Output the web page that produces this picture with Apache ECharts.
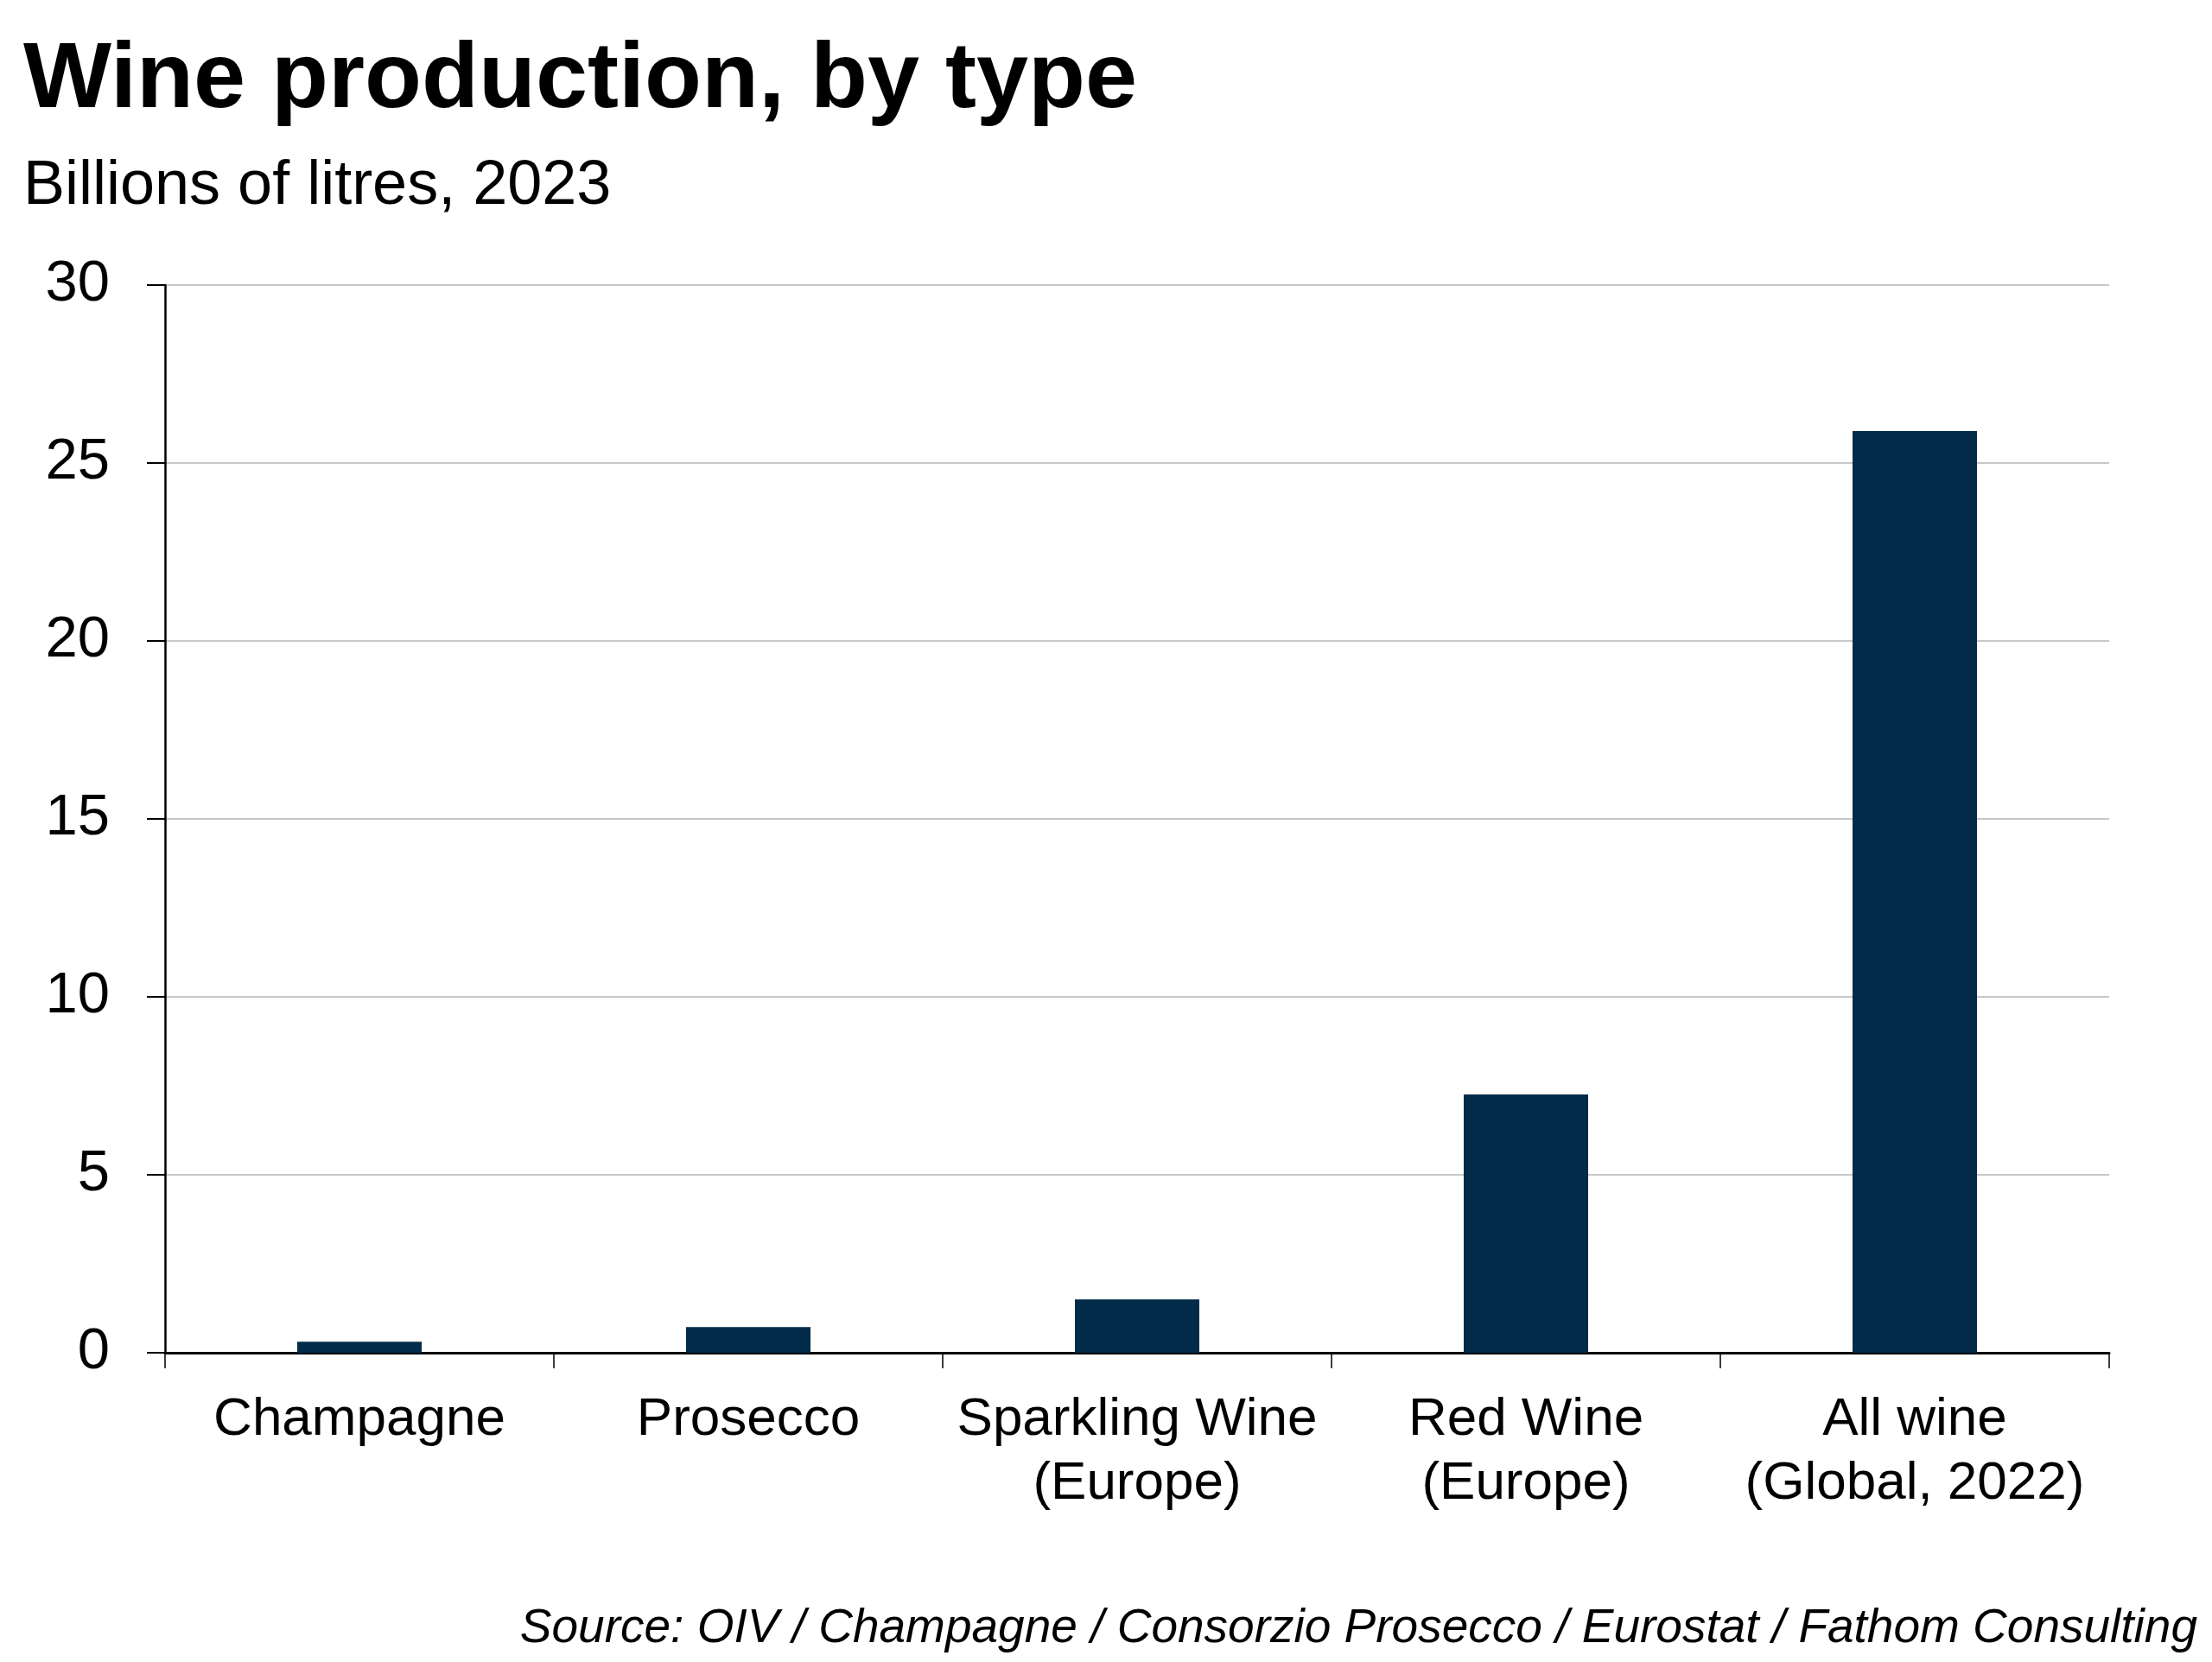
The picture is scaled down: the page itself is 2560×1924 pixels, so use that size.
<!DOCTYPE html>
<html>
<head>
<meta charset="utf-8">
<script src="https://cdn.jsdelivr.net/npm/echarts@6/dist/echarts.min.js"></script>
<style>
html,body{margin:0;padding:0;background:#fff;}
#c{width:2560px;height:1924px;}
</style>
</head>
<body>
<div id="c"></div>
<script>
const categories = ["Champagne", "Prosecco", "Sparkling Wine\n(Europe)", "Red Wine\n(Europe)", "All wine\n(Global, 2022)"];
const values = [0.31, 0.72, 1.5, 7.26, 25.9];
const yTicks = [0, 5, 10, 15, 20, 25, 30];

const FONT = '"Liberation Sans", Arial, sans-serif';
const chart = echarts.init(document.getElementById('c'), null, {renderer: 'canvas'});
chart.setOption({
  backgroundColor: '#ffffff',
  animation: false,
  title: [
    {text: 'Wine production, by type', left: 22, top: 35,
     textStyle: {fontFamily: FONT, fontWeight: 'bold', fontSize: 108, lineHeight: 108, color: '#000'}},
    {text: 'Billions of litres, 2023', left: 22, top: 175,
     textStyle: {fontFamily: FONT, fontWeight: 'normal', fontSize: 72, lineHeight: 72, color: '#000'}},
    {text: 'Source: OIV / Champagne / Consorzio Prosecco / Eurostat / Fathom Consulting', right: 12, top: 1853,
     textStyle: {fontFamily: FONT, fontStyle: 'italic', fontWeight: 'normal', fontSize: 55, lineHeight: 55, color: '#000'}}
  ],
  grid: {left: 191, right: 119, top: 330, bottom: 358, containLabel: false},
  xAxis: {
    type: 'category',
    data: categories,
    axisLine: {show: true, lineStyle: {color: '#000', width: 3}},
    axisTick: {show: true, length: 18, lineStyle: {color: '#000', width: 1.5}},
    axisLabel: {fontFamily: FONT, fontSize: 62, lineHeight: 74, color: '#000', margin: 41, interval: 0},
    splitLine: {show: false}
  },
  yAxis: {
    type: 'value',
    min: yTicks[0], max: yTicks[yTicks.length - 1], interval: 5,
    axisLine: {show: true, lineStyle: {color: '#000', width: 2.5}},
    axisTick: {show: true, inside: false, length: 21, lineStyle: {color: '#000', width: 2}},
    axisLabel: {fontFamily: FONT, fontSize: 67, color: '#000', margin: 64},
    splitLine: {show: true, lineStyle: {color: '#c8c8c8', width: 2}}
  },
  series: [{
    type: 'bar',
    data: values,
    barWidth: '32%',
    itemStyle: {color: '#022b4a'}
  }]
});
</script>
</body>
</html>
